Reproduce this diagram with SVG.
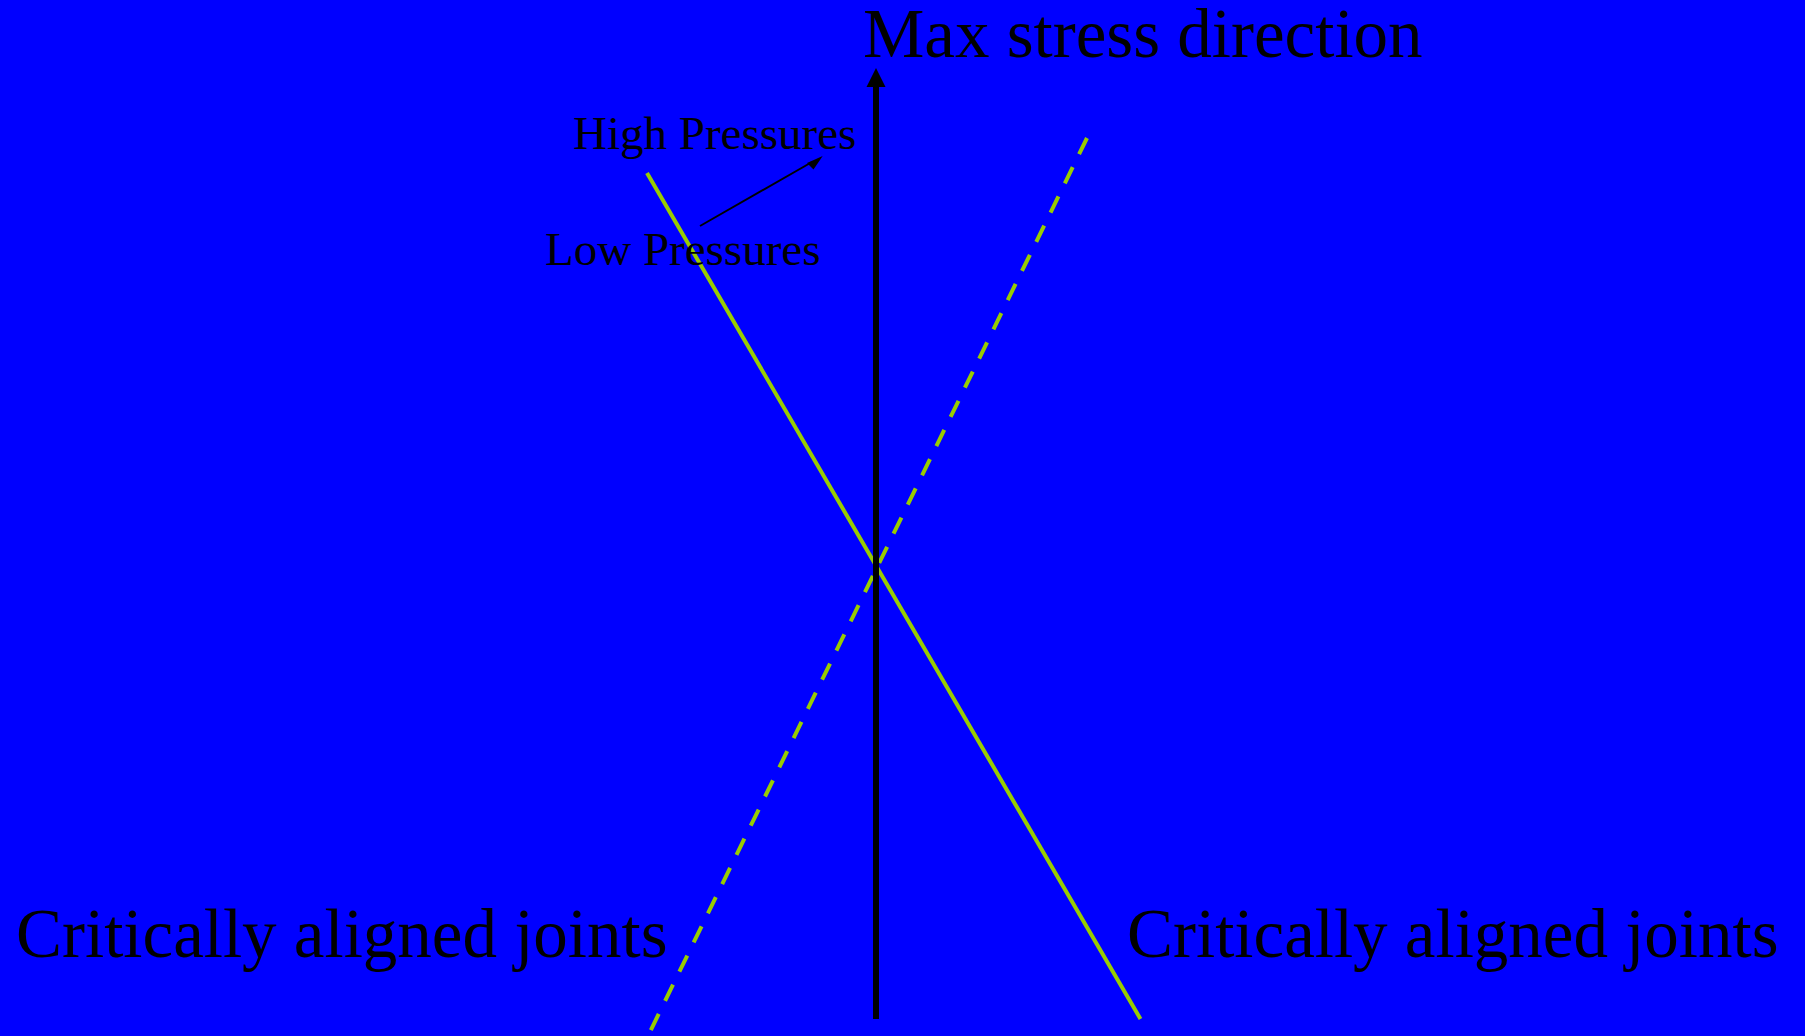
<svg xmlns="http://www.w3.org/2000/svg" width="1805" height="1036" viewBox="0 0 1805 1036">
<style>
.t{font-family:"Liberation Serif","Times New Roman",serif;fill:#000}
.big{font-size:69px}
.small{font-size:47px}
.joint{fill:none;stroke:#99cc00;stroke-width:4}
</style>
<rect x="0" y="0" width="1805" height="1036" fill="#0000ff"/>
<g id="connectors">
<line id="joint-solid" class="joint" x1="647" y1="173" x2="1140.5" y2="1019"/>
<line id="joint-dashed" class="joint" x1="1087" y1="138" x2="645" y2="1042" stroke-dasharray="18 14.5"/>
<line id="stress-axis" x1="876" y1="1019" x2="876" y2="84" stroke="#000" stroke-width="6"/>
<polygon points="876,68 885.5,87 866.5,87" fill="#000"/>
<line id="pressure-arrow" x1="700" y1="226" x2="812" y2="162" stroke="#000" stroke-width="2"/>
<polygon points="822.7,156 807,163 813.5,169.5" fill="#000"/>
</g>
<g id="title"><text class="t big" x="863" y="57">Max stress direction</text></g>
<g id="high"><text class="t small" x="573" y="149">High Pressures</text></g>
<g id="low"><text class="t small" x="545" y="265">Low Pressures</text></g>
<g id="left-joints"><text class="t big" x="16" y="957">Critically aligned joints</text></g>
<g id="right-joints"><text class="t big" x="1127" y="957">Critically aligned joints</text></g>
</svg>
